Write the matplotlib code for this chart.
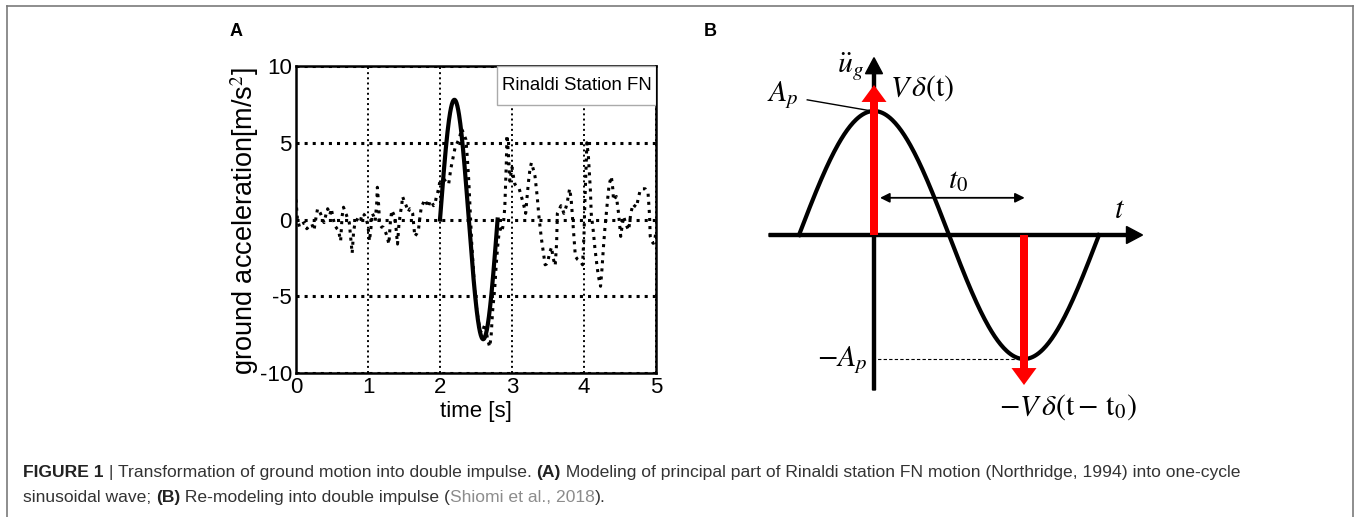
import numpy as np
import matplotlib
matplotlib.use("Agg")
from matplotlib import pyplot as plt
from matplotlib.lines import Line2D
from matplotlib.patches import Rectangle

plt.rcParams['font.family'] = ['Liberation Sans', 'DejaVu Sans']
plt.rcParams['mathtext.fontset'] = 'stix'

t_rec = [0.00, 0.02, 0.05, 0.08, 0.12, 0.15, 0.19, 0.22, 0.25, 0.28, 0.30, 0.34, 0.37, 0.39,
         0.42, 0.44, 0.47, 0.49, 0.52, 0.54, 0.57, 0.59, 0.62, 0.64, 0.66, 0.68, 0.70, 0.72,
         0.74, 0.76, 0.78, 0.80, 0.82, 0.85, 0.87, 0.90, 0.92, 0.95, 0.97, 1.00, 1.02, 1.04,
         1.06, 1.08, 1.10, 1.12, 1.13, 1.15, 1.16, 1.19, 1.21, 1.23, 1.25, 1.27, 1.29, 1.31,
         1.33, 1.35, 1.37, 1.39, 1.41, 1.43, 1.45, 1.47, 1.48, 1.51, 1.53, 1.56, 1.58, 1.60,
         1.62, 1.64, 1.65, 1.68, 1.70, 1.72, 1.74, 1.77, 1.79, 1.82, 1.84, 1.86, 1.88, 1.91,
         1.93, 1.95, 1.97, 2.00, 2.03, 2.06, 2.09, 2.12, 2.15, 2.18, 2.21, 2.24, 2.27, 2.30,
         2.33, 2.36, 2.38, 2.40, 2.42, 2.44, 2.46, 2.48, 2.50, 2.53, 2.56, 2.59, 2.61, 2.63,
         2.66, 2.69, 2.71, 2.73, 2.76, 2.78, 2.80, 2.82, 2.84, 2.86, 2.88, 2.90, 2.92, 2.93,
         2.95, 2.97, 3.00, 3.02, 3.04, 3.07, 3.10, 3.13, 3.16, 3.19, 3.21, 3.23, 3.25, 3.27,
         3.30, 3.32, 3.35, 3.37, 3.39, 3.41, 3.44, 3.46, 3.48, 3.50, 3.52, 3.55, 3.57, 3.60,
         3.62, 3.63, 3.66, 3.68, 3.70, 3.72, 3.75, 3.77, 3.80, 3.82, 3.83, 3.85, 3.88, 3.91,
         3.94, 3.96, 3.98, 4.00, 4.01, 4.03, 4.04, 4.06, 4.07, 4.09, 4.10, 4.13, 4.15, 4.18,
         4.20, 4.23, 4.25, 4.27, 4.29, 4.31, 4.33, 4.35, 4.38, 4.40, 4.41, 4.43, 4.45, 4.48,
         4.51, 4.53, 4.55, 4.58, 4.60, 4.62, 4.65, 4.68, 4.70, 4.73, 4.75, 4.78, 4.81, 4.85,
         4.87, 4.89, 4.91, 4.92, 4.94, 4.96, 4.98, 5.00]
a_rec = [1.3, 0.0, -0.5, -0.3, -0.2, -0.6, -0.4, -0.3, -0.7, 0.2, 0.7, 0.4, 0.0, -0.2,
         0.4, 0.7, 0.3, 0.7, 0.0, -0.4, -0.6, -0.7, -1.4, 0.2, 0.8, 0.5, 0.3, 0.0,
         -0.2, -1.2, -2.2, -0.8, -0.2, 0.0, 0.2, 0.0, 0.4, 0.3, 0.1, -0.4, -1.4, -0.6,
         0.4, 0.2, -0.1, 1.0, 2.1, 0.8, -0.3, -0.5, -0.5, -0.7, -0.9, -1.2, -1.6, -0.2,
         0.6, 0.4, 0.2, -0.6, -1.6, -0.3, 0.4, 1.0, 1.5, 1.1, 0.9, 0.5, 0.7, 0.6,
         0.4, -0.6, -1.1, -0.9, -0.7, 0.1, 0.8, 1.1, 1.3, 1.0, 0.8, 1.2, 1.2, 0.9,
         1.0, 1.5, 1.8, 2.5, 2.5, 2.6, 2.4, 2.3, 3.3, 4.0, 4.7, 5.0, 5.3, 5.9,
         5.6, 5.2, 4.0, 2.5, 0.5, -1.5, -3.0, -4.5, -5.5, -6.5, -7.3, -7.4, -7.0, -6.8,
         -7.8, -8.3, -7.6, -6.0, -4.5, -3.0, -1.8, -0.9, -0.6, -0.8, -0.3, 0.8, 3.5, 5.5,
         4.3, 2.5, 3.4, 2.8, 2.3, 2.1, 2.0, 1.5, 1.0, 0.4, 1.5, 2.5, 3.3, 3.7,
         3.2, 2.8, 1.5, 0.4, -0.5, -1.3, -2.3, -2.95, -2.9, -2.7, -2.2, -1.8, -2.5, -3.0,
         -1.5, 0.4, 0.7, 0.9, 0.7, 0.4, 0.8, 1.2, 2.0, 1.4, 0.8, -0.5, -2.4, -2.6,
         -2.7, -2.8, -2.95, -1.0, 0.8, 3.5, 5.0, 4.2, 3.4, 1.8, 0.4, -0.8, -1.8, -3.0,
         -3.7, -4.35, -3.2, -1.8, -0.6, 0.4, 1.4, 2.3, 2.8, 2.0, 1.25, 1.4, 1.5, 0.4,
         -1.1, -0.4, 0.2, -0.25, -0.5, -0.7, 0.4, 1.0, 0.9, 0.8, 1.3, 1.9, 2.0, 2.0,
         1.8, 1.7, 0.3, -1.1, -1.4, -1.55, -1.5, -0.7]

# one-cycle sinusoidal model of the pulse
pulse_start = 2.0
pulse_period = 0.8
pulse_amp = 7.8

x_ticks = [0, 1, 2, 3, 4, 5]
y_ticks = [-10, -5, 0, 5, 10]
y_ticklabels = ['-10', '-5', '0', '5', '10']

# ---- panel B schematic (time in quarter periods, amplitude in A_p)
Ap = 1.0
quarter = 1.0
t0 = 2.0 * quarter
impulse_len = 1.21

W, H = 1357, 517
fig = plt.figure(figsize=(W / 100, H / 100), dpi=100)


def fx(px):
    return px / W


def fy(py):
    return 1 - py / H


# grey frame round the figure (open at the bottom)
frame_c = '#7a7a7a'
fig.add_artist(Line2D([fx(7), fx(7)], [fy(6), 0], color=frame_c, lw=1.2))
fig.add_artist(Line2D([fx(7), fx(1353)], [fy(6), fy(6)], color=frame_c, lw=1.2))
fig.add_artist(Line2D([fx(1353), fx(1353)], [fy(6), 0], color=frame_c, lw=1.2))

# ================= panel A =================
axA = fig.add_axes([fx(296), fy(373), (656 - 296) / W, (373 - 66) / H])
t_model = np.linspace(pulse_start, pulse_start + pulse_period, 200)
a_model = pulse_amp * np.sin(2 * np.pi * (t_model - pulse_start) / pulse_period)
axA.plot(t_rec, a_rec, color='k', ls=':', lw=2.2, dash_capstyle='butt')
axA.plot(t_model, a_model, color='k', lw=3.0)
axA.set_xlim(0, 5)
axA.set_ylim(-10, 10)
axA.set_xticks(x_ticks)
axA.set_yticks(y_ticks)
axA.set_yticklabels(y_ticklabels)
axA.xaxis.grid(True, color='k', ls=':', lw=1.4)
axA.yaxis.grid(True, color='k', ls=':', lw=2.2)
axA.tick_params(length=0, labelsize=16, pad=3)
for sp in axA.spines.values():
    sp.set_linewidth(1.8)
axA.add_patch(Rectangle((0.558, 0.873), 0.442, 0.127, transform=axA.transAxes,
                        facecolor='white', edgecolor='#aaaaaa', lw=1.0, zorder=5))
axA.text(0.78, 0.9365, 'Rinaldi Station FN', transform=axA.transAxes, ha='center',
         va='center', fontsize=13.4, zorder=6)
axA.set_xlabel('time [s]', fontsize=16, labelpad=2)
fig.text(fx(245), fy(221), 'ground acceleration[m/s$^2$]', rotation=90, ha='center',
         va='center', fontsize=19.5)

fig.text(fx(236), fy(32), 'A', fontsize=13, fontweight='bold', ha='center', va='center')
fig.text(fx(710), fy(32), 'B', fontsize=13, fontweight='bold', ha='center', va='center')

# ================= panel B =================
px_q, px_a = 75.0, 124.0      # pixels per quarter period / per A_p
x_org, y_org = 874.0, 235.0
bl, br, bt, bb = 740, 1180, 30, 440
axB = fig.add_axes([fx(bl), fy(bb), (br - bl) / W, (bb - bt) / H])
axB.set_xlim((bl - x_org) / px_q, (br - x_org) / px_q)
axB.set_ylim((y_org - bb) / px_a, (y_org - bt) / px_a)
axB.axis('off')

# axes with arrow heads
axB.arrow(-1.4, 0, 3.58 + 1.4, 0, width=3 / px_a, head_width=17 / px_a, head_length=16 / px_q,
          length_includes_head=True, color='k', zorder=2)
axB.arrow(0, -1.25, 0, 1.43 + 1.25, width=3 / px_q, head_width=17 / px_q,
          head_length=16 / px_a, length_includes_head=True, color='k', zorder=2)

# one-cycle sine
ts = np.linspace(-quarter, 3 * quarter, 300)
axB.plot(ts, Ap * np.cos(np.pi / 2 * ts / quarter), color='k', lw=3.0, zorder=3)

# double impulse
axB.arrow(0, 0, 0, impulse_len, width=8 / px_q, head_width=25 / px_q, head_length=17 / px_a,
          length_includes_head=True, color='#ff0000', lw=0, zorder=4)
axB.arrow(t0, 0, 0, -impulse_len, width=8 / px_q, head_width=25 / px_q, head_length=17 / px_a,
          length_includes_head=True, color='#ff0000', lw=0, zorder=4)

# t0 span
axB.annotate('', xy=(0.08, 0.30), xytext=(2.01, 0.30),
             arrowprops=dict(arrowstyle='<|-|>', color='k', lw=1.3, mutation_scale=14,
                             shrinkA=0, shrinkB=0))
# leader to peak and dashed level line
axB.plot([-0.89, -0.03], [1.09, 1.0], color='k', lw=1.0)
axB.plot([-0.03, 1.99], [-Ap, -Ap], color='k', lw=0.8, ls=(0, (3, 2)))

ms = 21.5
axB.text(-0.31, 1.355, r'$\ddot{u}_g$', fontsize=ms, ha='center', va='center')
axB.text(0.21, 1.185, r'$V\,\delta(\mathrm{t})$', fontsize=ms, ha='left', va='center')
axB.text(-1.21, 1.13, r'$A_p$', fontsize=ms, ha='center', va='center')
axB.text(1.12, 0.44, r'$t_0$', fontsize=ms, ha='center', va='center')
axB.text(3.28, 0.20, r'$t$', fontsize=22, ha='center', va='center')
axB.text(-0.08, -1.01, r'$-A_p$', fontsize=ms, ha='right', va='center')
axB.text(2.59, -1.39, r'$-V\,\delta(\mathrm{t}-\,\mathrm{t}_0)$', fontsize=ms,
         ha='center', va='center')

# ================= caption =================
renderer = fig.canvas.get_renderer()
body_c = '#333333'
cap_fs = 12.6


def put_runs(x_px, y_px, runs):
    x = x_px
    for s, weight, color in runs:
        t = fig.text(fx(x), fy(y_px), s, fontsize=cap_fs, fontweight=weight, color=color,
                     va='baseline', ha='left')
        x += t.get_window_extent(renderer).width


put_runs(23, 477, [
    ('FIGURE 1', 'bold', '#222222'),
    (' | Transformation of ground motion into double impulse. ', 'normal', body_c),
    ('(A)', 'bold', '#222222'),
    (' Modeling of principal part of Rinaldi station FN motion (Northridge, 1994) into one-cycle',
     'normal', body_c),
])
put_runs(23, 502, [
    ('sinusoidal wave; ', 'normal', body_c),
    ('(B)', 'bold', '#222222'),
    (' Re-modeling into double impulse (', 'normal', body_c),
    ('Shiomi et al., 2018', 'normal', '#8c8c8c'),
    (').', 'normal', body_c),
])

fig.savefig('out.png', dpi=100)
